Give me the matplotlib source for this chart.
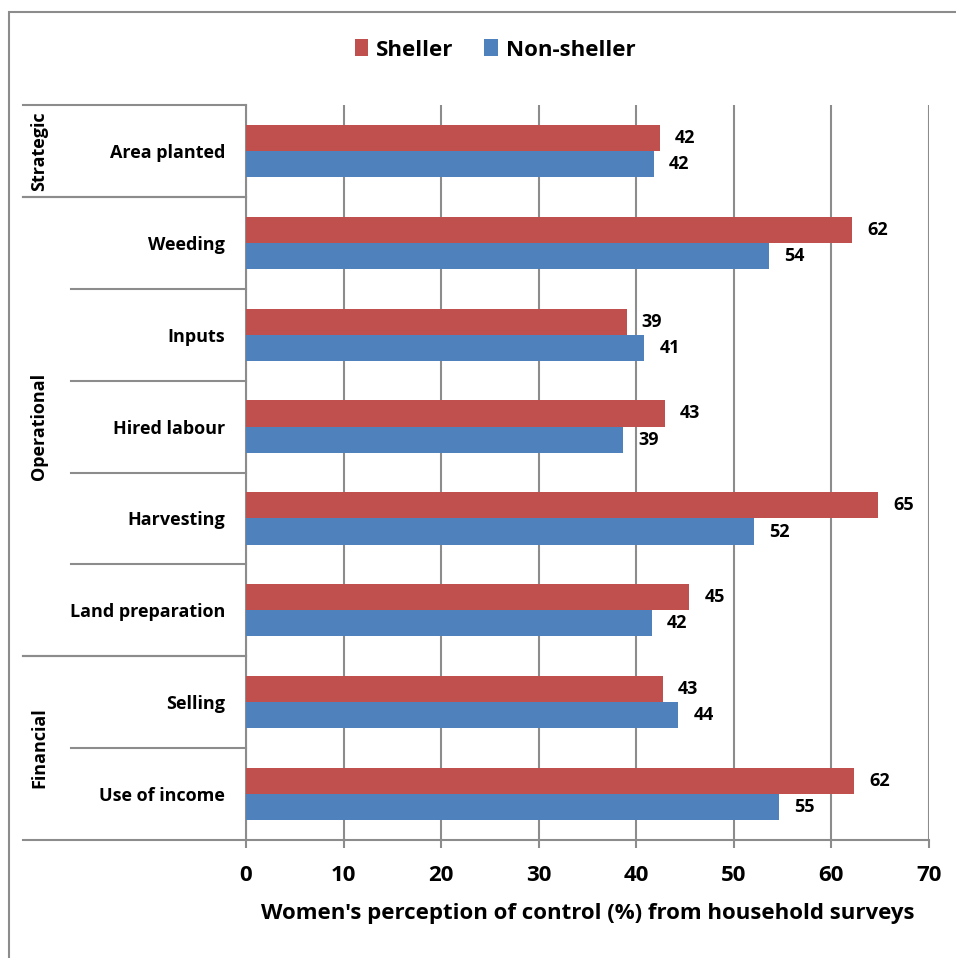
import matplotlib
matplotlib.use('Agg')
import matplotlib.pyplot as plt
from matplotlib.patches import Rectangle
import numpy as np

# Decision areas, listed top to bottom
activities = ['Area planted', 'Weeding', 'Inputs', 'Hired labour', 'Harvesting',
              'Land preparation', 'Selling', 'Use of income']
sheller = [42.4, 62.1, 39.0, 42.9, 64.8, 45.4, 42.7, 62.3]
non_sheller = [41.8, 53.6, 40.8, 38.6, 52.1, 41.6, 44.3, 54.6]

# Decision type groups: (label, first index, last index)
groups = [('Strategic', 0, 0), ('Operational', 1, 5), ('Financial', 6, 7)]

xticks = [0, 10, 20, 30, 40, 50, 60, 70]

RED = '#C0504D'
BLUE = '#4F81BD'
GRID = '#8C8C8C'

plt.rcParams.update({'font.family': ['Open Sans', 'DejaVu Sans'], 'font.weight': 'bold'})

W, H = 956, 958
fig = plt.figure(figsize=(W / 100, H / 100), dpi=100)
ax = fig.add_axes([246 / W, 1 - 840 / H, (929 - 246) / W, (840 - 105) / H])

y = np.arange(len(activities))
bh = 0.285
ax.barh(y - bh / 2, sheller, height=bh, color=RED, label='Sheller', zorder=3)
ax.barh(y + bh / 2, non_sheller, height=bh, color=BLUE, label='Non-sheller', zorder=3)

for yi, v in zip(y - bh / 2, sheller):
    ax.annotate(f'{v:.0f}', xy=(v, yi), xytext=(11, 0), textcoords='offset points',
                va='center', ha='left', fontsize=13, fontweight='bold')
for yi, v in zip(y + bh / 2, non_sheller):
    ax.annotate(f'{v:.0f}', xy=(v, yi), xytext=(11, 0), textcoords='offset points',
                va='center', ha='left', fontsize=13, fontweight='bold')

ax.set_xlim(0, 70)
ax.set_ylim(len(activities) - 0.5, -0.5)
ax.set_xticks(xticks)
ax.set_xticklabels([str(t) for t in xticks], fontsize=16, fontweight='bold')
ax.set_yticks(y)
ax.set_yticklabels(activities, fontsize=13, fontweight='bold')
ax.tick_params(axis='y', length=0, pad=15)
ax.tick_params(axis='x', length=6, width=1.5, color=GRID, pad=12)
ax.xaxis.grid(True, color=GRID, linewidth=1.5, zorder=0)
for s in ['top', 'right']:
    ax.spines[s].set_visible(False)
for s in ['left', 'bottom']:
    ax.spines[s].set_color(GRID)
    ax.spines[s].set_linewidth(1.5)

ax.set_xlabel("Women's perception of control (%) from household surveys",
              fontsize=16, fontweight='bold', labelpad=12)

# Multi-level category axis on the left
tr = ax.get_yaxis_transform()
outer_x = (23 - 246) / (929 - 246)
inner_x = (71 - 246) / (929 - 246)
group_x = (39 - 246) / (929 - 246)
for name, i0, i1 in groups:
    for yb in (i0 - 0.5, i1 + 0.5):
        ax.plot([outer_x, 0], [yb, yb], color=GRID, lw=1.5, transform=tr,
                clip_on=False, zorder=4)
    for k in range(i0, i1):
        ax.plot([inner_x, 0], [k + 0.5, k + 0.5], color=GRID, lw=1.5, transform=tr,
                clip_on=False, zorder=4)
    ax.text(group_x, (i0 + i1) / 2, name, transform=tr, rotation=90,
            ha='center', va='center', fontsize=13, fontweight='bold')

ax.legend(loc='center', bbox_to_anchor=(495 / W, 1 - 50 / H),
          bbox_transform=fig.transFigure, ncol=2, frameon=False,
          handlelength=0.6, handleheight=0.8,
          handletextpad=0.35, columnspacing=1.4,
          prop={'weight': 'bold', 'size': 16})

# Chart area border
fig.patches.append(Rectangle((9 / W, -0.05), 1.1, 1 - 12 / H + 0.05,
                             transform=fig.transFigure, fill=False,
                             edgecolor=GRID, linewidth=1.5))

fig.savefig('out.png', dpi=100)
